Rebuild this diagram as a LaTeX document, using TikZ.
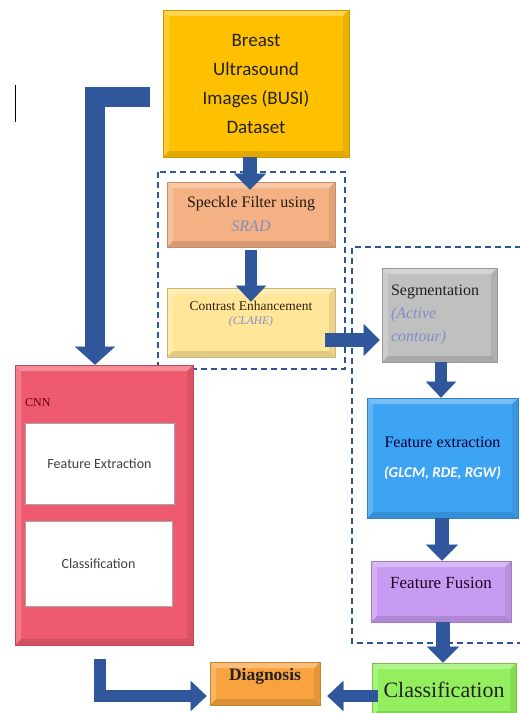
\documentclass[tikz,border=0pt]{standalone}
\usepackage{fontspec}
\setmainfont{Liberation Serif}
\newfontfamily\calib{Carlito}
\usetikzlibrary{arrows.meta}
\definecolor{gold}{HTML}{FFC000}
\definecolor{salmon}{HTML}{F4B183}
\definecolor{paleyel}{HTML}{FFE699}
\definecolor{greybox}{HTML}{C0C0C0}
\definecolor{febblue}{HTML}{3DA3F3}
\definecolor{lavender}{HTML}{C89BF2}
\definecolor{limeg}{HTML}{93EF5E}
\definecolor{orangeb}{HTML}{F9A33F}
\definecolor{cnnpink}{HTML}{EE5A6E}
\definecolor{arrowblue}{HTML}{30579C}
\definecolor{dashblue}{HTML}{2F5597}
\definecolor{subgrey}{HTML}{7F8FC4}
\definecolor{darktext}{HTML}{222222}
\newcommand{\bevelpic}{%
  \fill[white,opacity=0.3] (path picture bounding box.north west) -- (path picture bounding box.north east)
    -- ([xshift=-6pt,yshift=-6pt]path picture bounding box.north east) -- ([xshift=6pt,yshift=-6pt]path picture bounding box.north west) -- cycle;
  \fill[white,opacity=0.2] (path picture bounding box.north west) -- ([xshift=6pt,yshift=-6pt]path picture bounding box.north west)
    -- ([xshift=6pt,yshift=6pt]path picture bounding box.south west) -- (path picture bounding box.south west) -- cycle;
  \fill[black,opacity=0.12] (path picture bounding box.south west) -- (path picture bounding box.south east)
    -- ([xshift=-6pt,yshift=6pt]path picture bounding box.south east) -- ([xshift=6pt,yshift=6pt]path picture bounding box.south west) -- cycle;
  \fill[black,opacity=0.08] (path picture bounding box.north east) -- (path picture bounding box.south east)
    -- ([xshift=-6pt,yshift=6pt]path picture bounding box.south east) -- ([xshift=-6pt,yshift=-6pt]path picture bounding box.north east) -- cycle;
}
\begin{document}
\begin{tikzpicture}[x=1pt,y=-1pt,
  box/.style={rectangle, inner sep=0pt, align=center, text=darktext, draw=#1!80!black, line width=0.6pt, fill=#1, path picture={\bevelpic}},
  whitebox/.style={rectangle, inner sep=0pt, align=center, fill=white, draw=gray!70, line width=0.8pt, font=\calib\fontsize{14}{16}\selectfont, text=black!75},
  fat/.style={draw=arrowblue, line width=14pt, line join=miter, -{Triangle[length=16pt,width=32pt,line width=0.1pt]}},
  fatthin/.style={fat, line width=12.5pt, -{Triangle[length=16pt,width=30pt,line width=0.1pt]}},
  fatwide/.style={fat, line width=20pt, -{Triangle[length=18pt,width=40pt,line width=0.1pt]}},
  dashbox/.style={draw=dashblue, line width=1.1pt, dash pattern=on 6pt off 4pt}
]
\useasboundingbox[fill=white] (0,0) rectangle (520,713);

% stray mark
\draw[line width=1pt] (15,85) -- (15,122);

% dashed groups
\draw[dashbox] (158,172) rectangle (345,369);
\draw[dashbox] (521,247) -- (352,247) -- (352,643) -- (521,643);

% nodes
\node[box=gold, minimum width=186pt, minimum height=147pt, font=\calib\fontsize{19}{29}\selectfont] (busi) at (256,83.5)
  {Breast\\Ultrasound\\Images (BUSI)\\Dataset};
\node[box=salmon, minimum width=168pt, minimum height=65pt, text=black!80!brown, font=\fontsize{16}{24}\selectfont] (speckle) at (251,214.5)
  {Speckle Filter using\\\textcolor{subgrey}{\textit{SRAD}}};
\node[box=paleyel, minimum width=168pt, minimum height=69pt, text=black!75!brown, font=\fontsize{13.5}{16}\selectfont] (contrast) at (251,322.5)
  {Contrast Enhancement\\[-2pt]\textcolor{subgrey}{\fontsize{11.5}{13}\selectfont\textit{(CLAHE)}}\\[4pt]};
\node[box=greybox, minimum width=115pt, minimum height=94pt, text width=97pt, align=left, font=\fontsize{16}{23}\selectfont] (seg) at (439.5,315)
  {Segmentation\\\textcolor{subgrey}{\textit{(Active}}\\\textcolor{subgrey}{\textit{contour)}}};
\node[box=febblue, minimum width=151pt, minimum height=120pt, text=black!80!blue, font=\fontsize{16}{18}\selectfont] (fe) at (442.5,458)
  {Feature extraction\\[12pt]\textcolor{white}{\calib\fontsize{15}{17}\selectfont\bfseries\itshape (GLCM, RDE, RGW)}};
\node[box=lavender, minimum width=140pt, minimum height=61pt, text=black!70!violet, font=\fontsize{17}{20}\selectfont] (fusion) at (441,591.5)
  {Feature Fusion\\[-2pt]};
\node[box=limeg, minimum width=144pt, minimum height=54pt, font=\fontsize{22}{26}\selectfont] (cls) at (444,690)
  {Classification};
\node[box=orangeb, minimum width=110pt, minimum height=43pt, font=\fontsize{17.5}{20}\selectfont\bfseries] (diag) at (265,683.5)
  {Diagnosis\\[-2pt]};
\node[box=cnnpink, minimum width=178pt, minimum height=280pt] (cnn) at (104,505) {};
\node[anchor=west, inner sep=0pt, text=black!60!red, font=\fontsize{12}{14}\selectfont] (cnnlabel) at (25,403) {CNN};
\node[whitebox, minimum width=149pt, minimum height=81pt] (cnnfe) at (99.5,463.5) {Feature Extraction};
\node[whitebox, minimum width=147pt, minimum height=85pt] (cnncls) at (98.5,563.5) {Classification};

% connectors
\coordinate (tlstart) at (150,97);
\coordinate (lstart) at (100,659);
\draw[fat] ([xshift=-6pt]busi.south) -- ([xshift=-1pt,yshift=-8pt]speckle.north);
\draw[fatthin] ([yshift=-3pt]speckle.south) -- ([yshift=-14pt]contrast.north);
\draw[fat] ([xshift=-10pt,yshift=-17.5pt]contrast.east) -- ([xshift=-2pt,yshift=-25pt]seg.west);
\draw[fatthin] ([xshift=1.5pt]seg.south) -- ([xshift=-1.5pt]fe.north);
\draw[fat] ([xshift=-0.5pt]fe.south) -- ([xshift=1pt]fusion.north);
\draw[fat] ([xshift=2pt]fusion.south) -- ([xshift=-1pt]cls.north);
\draw[fatthin] ([xshift=6pt,yshift=-6pt]cls.west) -- ([xshift=7pt,yshift=-12.5pt]diag.east);
\draw[fatthin] (lstart) |- ([xshift=-3pt,yshift=-12.5pt]diag.west);
\draw[fatwide] (tlstart) -| ([xshift=-9pt]cnn.north);
\end{tikzpicture}
\end{document}
